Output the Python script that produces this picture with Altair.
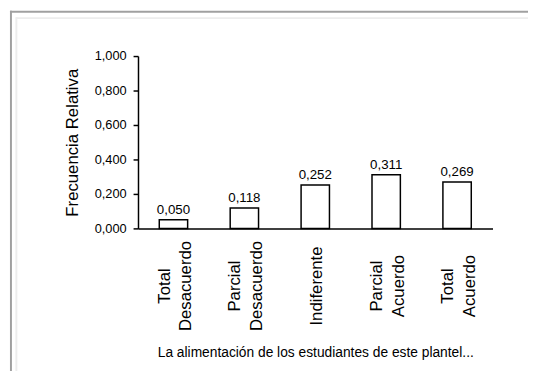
import altair as alt
import pandas as pd

categories = ["Total\nDesacuerdo", "Parcial\nDesacuerdo", "Indiferente", "Parcial\nAcuerdo", "Total\nAcuerdo"]
values = [0.050, 0.118, 0.252, 0.311, 0.269]
y_ticks = [0.0, 0.2, 0.4, 0.6, 0.8, 1.0]
x_title = "La alimentación de los estudiantes de este plantel..."
y_title = "Frecuencia Relativa"

FONT = "Liberation Sans"

df = pd.DataFrame({"cat": categories, "v": values})

x_enc = alt.X(
    "cat:N",
    sort=categories,
    scale=alt.Scale(paddingInner=0.6, paddingOuter=0.3),
    axis=alt.Axis(
        title=x_title,
        labelAngle=-90,
        labelAlign="center",
        labelBaseline="middle",
        labelPadding=58,
        labelOffset=alt.condition("indexof(datum.value, '\\n') >= 0", alt.value(-9), alt.value(2)),
        labelFontSize=17,
        labelLineHeight=22,
        labelExpr="split(datum.label, '\\n')",
        labelColor="black",
        labelLimit=300,
        labelOverlap=False,
        ticks=False,
        domainColor="black",
        domainWidth=1.5,
        titleFontSize=14,
        titleFontWeight="normal",
        titleColor="black",
        titlePadding=15,
    ),
)

y_enc = alt.Y(
    "v:Q",
    scale=alt.Scale(domain=[0, 1], nice=False),
    axis=alt.Axis(
        title=y_title,
        values=y_ticks,
        labelExpr="replace(format(datum.value, '.3f'), '.', ',')",
        labelFontSize=13,
        labelColor="black",
        labelPadding=7,
        labelOverlap=False,
        labelFlush=False,
        tickSize=5,
        tickColor="black",
        tickWidth=1.5,
        domainColor="black",
        domainWidth=1.5,
        grid=False,
        titleFontSize=17,
        titleFontWeight="normal",
        titleColor="black",
        titlePadding=13,
    ),
)

base = alt.Chart(df).transform_calculate(
    lbl="replace(format(datum.v, '.3f'), '.', ',')"
).encode(x=x_enc, y=y_enc)

bars = base.mark_bar(fill="white", stroke="black", strokeWidth=1.5)
labels = base.mark_text(
    fontSize=13.5, baseline="alphabetic", dy=-6, color="black", font=FONT
).encode(text="lbl:N")

data_layer = alt.layer(bars, labels)

one = alt.Data(values=[{"a": 1}])
frame_outer_top = alt.Chart(one).mark_rule(color="#a0a0a0", strokeWidth=2).encode(
    x=alt.value(-130), x2=alt.value(400), y=alt.value(-45)
)
frame_outer_left = alt.Chart(one).mark_rule(color="#a0a0a0", strokeWidth=2).encode(
    x=alt.value(-129), y=alt.value(-46), y2=alt.value(340)
)
frame_inner_top = alt.Chart(one).mark_rule(color="#ededed", strokeWidth=2).encode(
    x=alt.value(-124), x2=alt.value(400), y=alt.value(-38.5)
)
frame_inner_left = alt.Chart(one).mark_rule(color="#ededed", strokeWidth=2).encode(
    x=alt.value(-123.5), y=alt.value(-39.5), y2=alt.value(340)
)

chart = alt.layer(
    frame_outer_top, frame_outer_left, frame_inner_top, frame_inner_left, data_layer
).properties(
    width=360,
    height=175,
    padding={"left": 132, "top": 46, "right": 36, "bottom": 142},
    autosize=alt.AutoSizeParams(type="none"),
    background="white",
).configure(font=FONT).configure_view(stroke=None)

chart.save("out.html", embed_options={"renderer": "svg", "actions": False})
